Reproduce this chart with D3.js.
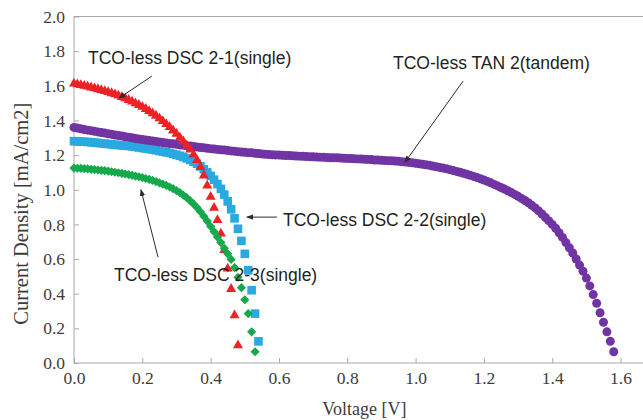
<!DOCTYPE html>
<html>
<head>
<meta charset="utf-8">
<script src="https://cdn.jsdelivr.net/npm/d3@7"></script>
<style>
  body { margin: 0; background: #fff; }
  svg { display: block; }
</style>
</head>
<body>
<svg id="chart" width="643" height="420"></svg>
<script>
// Voltage sweep shared by every cell (V)
const sweepV = [
  0.00,0.01,0.02,0.03,0.04,0.05,0.06,0.07,0.08,0.09,
  0.10,0.11,0.12,0.13,0.14,0.15,0.16,0.17,0.18,0.19,
  0.20,0.21,0.22,0.23,0.24,0.25,0.26,0.27,0.28,0.29,
  0.30,0.31,0.32,0.33,0.34,0.35,0.36,0.37,0.38,0.39,
  0.40,0.41,0.42,0.43,0.44,0.45,0.46,0.47,0.48,0.49,
  0.50,0.51,0.52,0.53,0.54,0.55,0.56,0.57,0.58,0.59,
  0.60,0.61,0.62,0.63,0.64,0.65,0.66,0.67,0.68,0.69,
  0.70,0.71,0.72,0.73,0.74,0.75,0.76,0.77,0.78,0.79,
  0.80,0.81,0.82,0.83,0.84,0.85,0.86,0.87,0.88,0.89,
  0.90,0.91,0.92,0.93,0.94,0.95,0.96,0.97,0.98,0.99,
  1.00,1.01,1.02,1.03,1.04,1.05,1.06,1.07,1.08,1.09,
  1.10,1.11,1.12,1.13,1.14,1.15,1.16,1.17,1.18,1.19,
  1.20,1.21,1.22,1.23,1.24,1.25,1.26,1.27,1.28,1.29,
  1.30,1.31,1.32,1.33,1.34,1.35,1.36,1.37,1.38,1.39,
  1.40,1.41,1.42,1.43,1.44,1.45,1.46,1.47,1.48,1.49,
  1.50,1.51,1.52,1.53,1.54,1.55,1.56,1.57,1.58
];

// Current density (mA/cm2) of each cell along the sweep
const tandemJ = [
  1.360,1.356,1.352,1.348,1.344,1.341,1.337,1.334,1.330,1.327,
  1.323,1.320,1.316,1.313,1.310,1.306,1.303,1.300,1.296,1.293,
  1.290,1.287,1.284,1.281,1.278,1.275,1.273,1.270,1.267,1.265,
  1.262,1.259,1.257,1.254,1.252,1.249,1.247,1.244,1.242,1.239,
  1.237,1.235,1.233,1.231,1.229,1.226,1.224,1.222,1.220,1.218,
  1.216,1.214,1.213,1.211,1.209,1.207,1.205,1.204,1.202,1.201,
  1.200,1.199,1.198,1.197,1.196,1.195,1.194,1.193,1.192,1.191,
  1.190,1.189,1.188,1.187,1.186,1.185,1.184,1.184,1.183,1.182,
  1.181,1.180,1.179,1.178,1.177,1.176,1.175,1.174,1.172,1.171,
  1.170,1.169,1.168,1.167,1.166,1.164,1.162,1.160,1.158,1.156,
  1.153,1.150,1.147,1.144,1.141,1.137,1.133,1.129,1.125,1.121,
  1.116,1.111,1.106,1.101,1.095,1.089,1.083,1.077,1.070,1.063,
  1.056,1.048,1.040,1.031,1.022,1.013,1.004,0.994,0.984,0.973,
  0.962,0.950,0.938,0.925,0.910,0.895,0.878,0.860,0.840,0.820,
  0.800,0.778,0.752,0.725,0.695,0.665,0.635,0.600,0.565,0.530,
  0.490,0.445,0.395,0.345,0.290,0.235,0.180,0.125,0.065
];
const dsc21J = [
  1.615,1.611,1.607,1.602,1.598,1.593,1.588,1.583,1.578,1.572,
  1.566,1.560,1.553,1.546,1.538,1.530,1.521,1.512,1.502,1.492,
  1.481,1.469,1.457,1.444,1.430,1.415,1.399,1.382,1.364,1.345,
  1.325,1.304,1.282,1.259,1.234,1.206,1.174,1.134,1.085,1.027,
  0.962,0.898,0.828,0.750,0.655,0.548,0.430,0.278,0.105
];
const dsc22J = [
  1.280,1.279,1.278,1.277,1.276,1.274,1.272,1.270,1.268,1.266,
  1.264,1.262,1.260,1.258,1.256,1.254,1.253,1.250,1.247,1.244,
  1.241,1.238,1.235,1.232,1.228,1.224,1.220,1.216,1.212,1.207,
  1.202,1.196,1.189,1.181,1.172,1.162,1.150,1.135,1.118,1.100,
  1.080,1.058,1.033,1.005,0.972,0.933,0.887,0.835,0.775,0.705,
  0.630,0.535,0.420,0.285,0.125
];
const dsc23J = [
  1.125,1.124,1.123,1.122,1.120,1.118,1.116,1.114,1.112,1.110,
  1.107,1.104,1.101,1.098,1.095,1.091,1.087,1.083,1.079,1.075,
  1.070,1.065,1.060,1.054,1.047,1.040,1.033,1.025,1.016,1.006,
  0.995,0.983,0.969,0.954,0.937,0.918,0.897,0.873,0.847,0.819,
  0.789,0.758,0.727,0.695,0.662,0.630,0.598,0.550,0.495,0.435,
  0.365,0.285,0.180,0.065
];

const seriesNames = [
  "TCO-less DSC 2-2(single)",
  "TCO-less TAN 2(tandem)",
  "TCO-less DSC 2-1(single)",
  "TCO-less DSC 2-3(single)"
];

const xTicks = [0.0, 0.2, 0.4, 0.6, 0.8, 1.0, 1.2, 1.4, 1.6];
const yTicks = [0.0, 0.2, 0.4, 0.6, 0.8, 1.0, 1.2, 1.4, 1.6, 1.8, 2.0];

// ---------------------------------------------------------------
const svg = d3.select("#chart");
const plotLeft = 74, plotBottom = 363, plotTop = 16.5, pxPerVolt = 341.6;

const x = d3.scaleLinear().domain([0, 1.7]).range([plotLeft, plotLeft + 1.7 * pxPerVolt]);
const y = d3.scaleLinear().domain([0, 2]).range([plotBottom, plotTop]);

const serif = "'Liberation Serif','Times New Roman',serif";
const sans = "'Liberation Sans',Arial,sans-serif";

// plot frame
svg.append("rect")
  .attr("x", x(0)).attr("y", y(2))
  .attr("width", x(1.7) - x(0)).attr("height", y(0) - y(2))
  .attr("fill", "none").attr("stroke", "#a9a9a9").attr("stroke-width", 1);

const xAxis = d3.axisBottom(x).tickValues(xTicks).tickFormat(d3.format(".1f"))
  .tickSizeInner(-5).tickSizeOuter(0).tickPadding(9);
const yAxis = d3.axisLeft(y).tickValues(yTicks).tickFormat(d3.format(".1f"))
  .tickSizeInner(-5).tickSizeOuter(0).tickPadding(9);

const gx = svg.append("g").attr("transform", `translate(0,${y(0)})`).call(xAxis);
const gy = svg.append("g").attr("transform", `translate(${x(0)},0)`).call(yAxis);
[gx, gy].forEach(g => {
  g.select(".domain").remove();
  g.selectAll(".tick line").attr("stroke", "#a9a9a9");
  g.selectAll(".tick text")
    .attr("fill", "#3c3c3c")
    .style("font-family", serif)
    .style("font-size", "17.5px");
});

// axis titles
svg.append("text")
  .attr("x", (x(0) + x(1.7)) / 2).attr("y", 415)
  .attr("text-anchor", "middle")
  .style("font-family", serif).style("font-size", "18px")
  .attr("fill", "#3c3c3c")
  .text("Voltage [V]");

svg.append("text")
  .attr("transform", `translate(28,${(y(0) + y(2)) / 2 + 24}) rotate(-90)`)
  .attr("text-anchor", "middle")
  .style("font-family", serif).style("font-size", "20.5px")
  .attr("fill", "#3c3c3c")
  .text("Current Density [mA/cm2]");

// marker shapes
const triangle = "M0,-5.4L5,3.4L-5,3.4Z";
const square = "M-4.3,-4.3H4.3V4.3H-4.3Z";
const diamond = "M0,-4.6L4.6,0L0,4.6L-4.6,0Z";

function pairs(js) { return js.map((j, i) => [sweepV[i], j]); }

const plot = svg.append("g");

// DSC 2-2: blue squares
plot.append("g").selectAll("path").data(pairs(dsc22J)).join("path")
  .attr("d", square).attr("fill", "#2aa9e1")
  .attr("transform", d => `translate(${x(d[0])},${y(d[1])})`);

// tandem: purple dots
plot.append("g").selectAll("circle").data(pairs(tandemJ)).join("circle")
  .attr("cx", d => x(d[0])).attr("cy", d => y(d[1])).attr("r", 4.5)
  .attr("fill", "#7134a3");

// DSC 2-1: red triangles
plot.append("g").selectAll("path").data(pairs(dsc21J)).join("path")
  .attr("d", triangle).attr("fill", "#ec2226")
  .attr("transform", d => `translate(${x(d[0])},${y(d[1])})`);

// DSC 2-3: green diamonds
plot.append("g").selectAll("path").data(pairs(dsc23J)).join("path")
  .attr("d", diamond).attr("fill", "#16a84c")
  .attr("transform", d => `translate(${x(d[0])},${y(d[1])})`);

// callouts: label anchor and arrow (tail -> head), in data units
const callouts = [
  { name: seriesNames[2], text: [0.041, 1.728], from: [0.228, 1.656], to: [0.132, 1.529] },
  { name: seriesNames[1], text: [0.934, 1.696], from: [1.139, 1.627], to: [0.969, 1.159] },
  { name: seriesNames[0], text: [0.612, 0.790], from: [0.594, 0.842], to: [0.506, 0.842] },
  { name: seriesNames[3], text: [0.117, 0.473], from: [0.246, 0.611], to: [0.196, 1.000] }
];

svg.append("defs").append("marker")
  .attr("id", "head").attr("viewBox", "0 0 10 10")
  .attr("refX", 9).attr("refY", 5)
  .attr("markerWidth", 7).attr("markerHeight", 7)
  .attr("markerUnits", "userSpaceOnUse")
  .attr("orient", "auto")
  .append("path").attr("d", "M0,1L10,5L0,9Z").attr("fill", "#2b2b2b");

const notes = svg.append("g");
notes.selectAll("line").data(callouts).join("line")
  .attr("x1", d => x(d.from[0])).attr("y1", d => y(d.from[1]))
  .attr("x2", d => x(d.to[0])).attr("y2", d => y(d.to[1]))
  .attr("stroke", "#2b2b2b").attr("stroke-width", 1)
  .attr("marker-end", "url(#head)");

notes.selectAll("text").data(callouts).join("text")
  .attr("x", d => x(d.text[0])).attr("y", d => y(d.text[1]))
  .style("font-family", sans).style("font-size", "17.5px")
  .attr("fill", "#231f20")
  .text(d => d.name);
</script>
</body>
</html>
